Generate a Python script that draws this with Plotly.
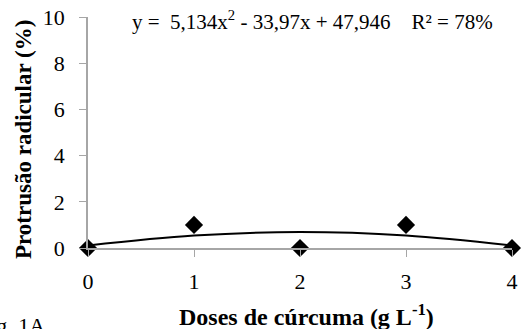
import plotly.graph_objects as go

doses = [0, 1, 2, 3, 4]
protrusao = [0, 1, 0, 1, 0]
trend_x = [0, 1, 2, 3, 4]
trend_y = [0.11, 0.54, 0.69, 0.54, 0.11]
y_ticks = [0, 2, 4, 6, 8, 10]
x_ticks = [0, 1, 2, 3, 4]

FF = "Liberation Serif"
W, H = 521, 329
L, R, T, B = 88, 9, 17, 81
pw, ph = W - L - R, H - T - B


def px(xp):
    return (xp - L) / pw


def py(yp):
    return (T + ph - yp) / ph


fig = go.Figure()
fig.add_trace(go.Scatter(x=trend_x, y=trend_y, mode="lines", line=dict(color="black", width=2, shape="spline"),
                         showlegend=False, cliponaxis=False, hoverinfo="skip"))
fig.add_trace(go.Scatter(x=doses, y=protrusao, mode="markers",
                         marker=dict(symbol="diamond", size=14, color="black"),
                         showlegend=False, cliponaxis=False))

fig.update_layout(
    width=W, height=H,
    margin=dict(l=L, r=R, t=T, b=B, autoexpand=False),
    paper_bgcolor="white", plot_bgcolor="white",
    font=dict(family=FF, color="black", size=22),
    xaxis=dict(range=[0, 4], tickvals=x_ticks, showgrid=False, zeroline=False,
               showline=True, linecolor="#a6a6a6", linewidth=1.5,
               ticks="outside", ticklen=7, tickcolor="#a6a6a6", ticklabelstandoff=6,
               tickfont=dict(family=FF, size=22, color="black"), automargin=False),
    yaxis=dict(range=[0, 10], tickvals=y_ticks, showgrid=False, zeroline=False,
               showline=True, linecolor="#a6a6a6", linewidth=1.5,
               ticks="outside", ticklen=7, tickcolor="#a6a6a6", ticklabelstandoff=10,
               tickfont=dict(family=FF, size=22, color="black"), automargin=False),
    annotations=[
        dict(text="y =  5,134x<sup>2</sup> - 33,97x + 47,946    R² = 78%",
             x=px(130), y=py(21), xanchor="left", yanchor="middle",
             xref="paper", yref="paper", showarrow=False, font=dict(family=FF, size=21, color="black")),
        dict(text="<b>Doses de cúrcuma (g L<sup>-1</sup>)</b>",
             x=px(306), y=py(315), xanchor="center", yanchor="middle",
             xref="paper", yref="paper", showarrow=False, font=dict(family=FF, size=24, color="black")),
        dict(text="<b>Protrusão radicular (%)</b>", textangle=-90,
             x=px(23), y=py(140), xanchor="center", yanchor="middle",
             xref="paper", yref="paper", showarrow=False, font=dict(family=FF, size=23, color="black")),
        dict(text="Fig. 1A", x=px(-24), y=py(311),
             xanchor="left", yanchor="top", xref="paper", yref="paper",
             showarrow=False, font=dict(family=FF, size=22, color="black")),
    ],
)
fig.write_html("out.html", config={"displayModeBar": False},
               post_script="document.body.style.margin='0px';")
